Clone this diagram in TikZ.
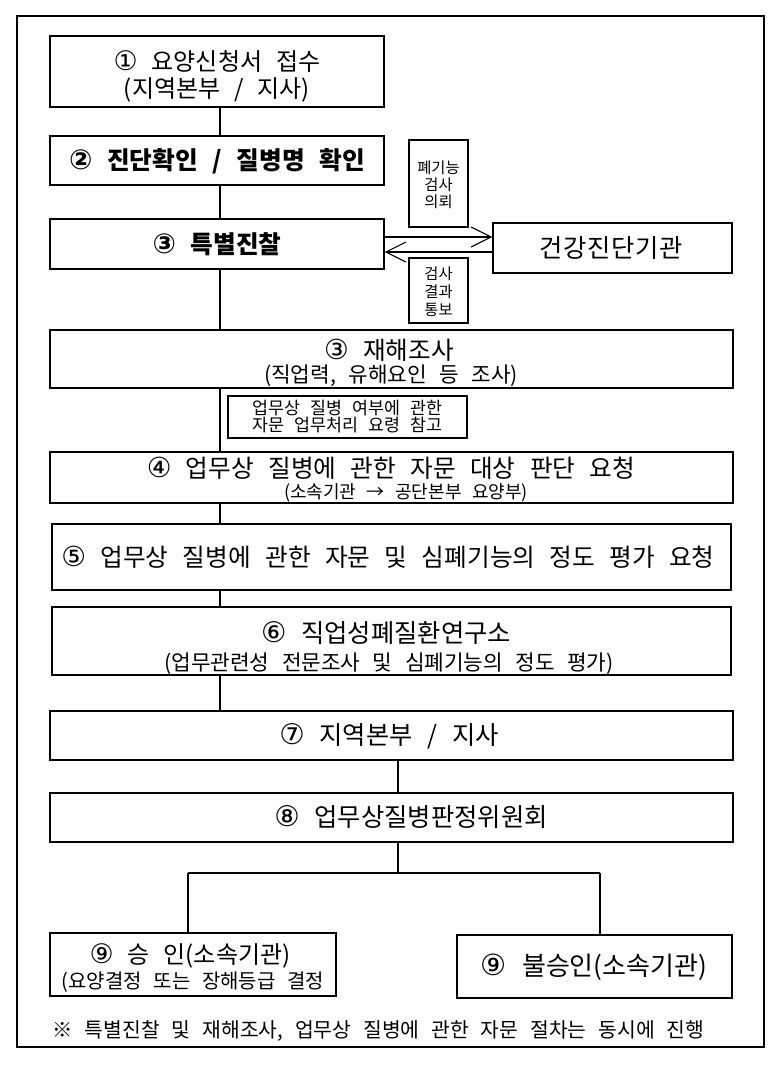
\documentclass[tikz,border=0pt]{standalone}
\usepackage{fontspec}
\setmainfont{Noto Sans CJK KR}[WordSpace=2.6]
\newfontfamily\dvfont{DejaVu Sans}[Scale=1.12]
\usetikzlibrary{arrows.meta,fit}
\newcommand\fsz[1]{\fontsize{#1pt}{#1pt}\selectfont}
\newcommand\cn[1]{{\dvfont #1}}
\tikzset{
  x=0.75pt, y=-0.75pt,
  box/.style={draw, line width=1.1pt, inner sep=0pt},
  tx/.style={inner sep=0pt, anchor=center, font=\fsz{#1},
    text height={#1*0.86pt}, text depth={#1*0.1pt}},
  conn/.style={line width=0.8pt},
  barb/.style={line width=0.8pt, -{Straight Barb[length=15pt,width=15pt,line width=0.8pt]}},
}
\begin{document}
\begin{tikzpicture}
\useasboundingbox (0,0) rectangle (783,1065);
\draw[line width=1.5pt] (17,16) rectangle (764,1047);

% boxes
\node[box, fit={(50,36)(384,107)}] (b1) {};
\node[box, fit={(50,136)(384,185)}] (b2) {};
\node[box, fit={(50,219)(384,269)}] (b3) {};
\node[box, fit={(409,140)(468,227)}] (pf) {};
\node[box, fit={(493,223)(732,273)}] (hc) {};
\node[box, fit={(409,258)(468,323)}] (rs) {};
\node[box, fit={(50,330)(733,388)}] (b3b) {};
\node[box, fit={(228,396)(467,438)}] (nt) {};
\node[box, fit={(50,452)(733,503)}] (b4) {};
\node[box, fit={(52,524)(731,590)}] (b5) {};
\node[box, fit={(52,607)(731,675)}] (b6) {};
\node[box, fit={(50,711)(733,760)}] (b7) {};
\node[box, fit={(50,793)(733,842)}] (b8) {};
\node[box, fit={(50,933)(336,996)}] (b9a) {};
\node[box, fit={(457,935)(732,998)}] (b9b) {};

% texts
\node[tx=18] (t1a) at (217,61) {\cn{①} 요양신청서 접수};
\node[tx=18] (t1b) at (217,88) {(지역본부 / 지사)};
\node[tx=18.5, font=\fsz{18.5}\bfseries] (t2) at (217,160) {\cn{②} 진단확인 / 질병명 확인};
\node[tx=18.5, font=\fsz{18.5}\bfseries] (t3) at (217,244) {\cn{③} 특별진찰};
\node[tx=11.5] (tp1) at (438.5,168) {폐기능};
\node[tx=11.5] (tp2) at (438.5,185) {검사};
\node[tx=11.5] (tp3) at (438.5,202) {의뢰};
\node[tx=19, font=\fsz{19}\addfontfeature{LetterSpace=3}] (th) at (611,248) {건강진단기관};
\node[tx=11.5] (tr1) at (438.5,274) {검사};
\node[tx=11.5] (tr2) at (438.5,292) {결과};
\node[tx=11.5] (tr3) at (438.5,310) {통보};
\node[tx=18.5] (t3ba) at (389,350) {\cn{③} 재해조사};
\node[tx=16] (t3bb) at (391,374) {(직업력, 유해요인 등 조사)};
\node[tx=13] (tn1) at (347.5,408) {업무상 질병 여부에 관한};
\node[tx=13] (tn2) at (347.5,425) {자문 업무처리 요령 참고};
\node[tx=18.5] (t4a) at (391,468) {\cn{④} 업무상 질병에 관한 자문 대상 판단 요청};
\node[tx=13.5] (t4b) at (406,492) {(소속기관 → 공단본부 요양부)};
\node[tx=18.5] (t5) at (388,557) {\cn{⑤} 업무상 질병에 관한 자문 및 심폐기능의 정도 평가 요청};
\node[tx=19] (t6a) at (386,633) {\cn{⑥} 직업성폐질환연구소};
\node[tx=16] (t6b) at (389,662) {(업무관련성 전문조사 및 심폐기능의 정도 평가)};
\node[tx=19] (t7) at (389,735) {\cn{⑦} 지역본부 / 지사};
\node[tx=19] (t8) at (411,817) {\cn{⑧} 업무상질병판정위원회};
\node[tx=18] (t9a) at (190,954) {\cn{⑨} 승 인(소속기관)};
\node[tx=15] (t9b) at (193,981) {(요양결정 또는 장해등급 결정};
\node[tx=19.5] (t9c) at (594,966) {\cn{⑨} 불승인(소속기관)};
\node[tx=15.3] (tf) at (378.5,1030) {※ 특별진찰 및 재해조사, 업무상 질병에 관한 자문 절차는 동시에 진행};

% connectors
\coordinate (trunk) at (220,0);
\coordinate (mid) at (398,0);
\coordinate (jn) at (398,873);
\coordinate (jl) at (188,873);
\coordinate (jr) at (600,873);
\draw[conn] (b1.south -| trunk) -- (b2.north -| trunk);
\draw[conn] (b2.south -| trunk) -- (b3.north -| trunk);
\draw[conn] (b3.south -| trunk) -- (b3b.north -| trunk);
\draw[conn] (b3b.south -| trunk) -- (b4.north -| trunk);
\draw[conn] (b4.south -| trunk) -- (b5.north -| trunk);
\draw[conn] (b5.south -| trunk) -- (b6.north -| trunk);
\draw[conn] (b6.south -| trunk) -- (b7.north -| trunk);
\draw[conn] (b7.south -| mid) -- (b8.north -| mid);
\draw[conn] (b8.south -| mid) -- (jn);
\draw[conn] (jl) -- (jr);
\draw[conn] (jl) -- (jl |- b9a.north);
\draw[conn] (jr) -- (jr |- b9b.north);
\coordinate (ya) at (0,237);
\coordinate (yb) at (0,252);
\draw[barb] (b3.east |- ya) -- (hc.west |- ya);
\draw[barb] (hc.west |- yb) -- (b3.east |- yb);
\end{tikzpicture}
\end{document}
